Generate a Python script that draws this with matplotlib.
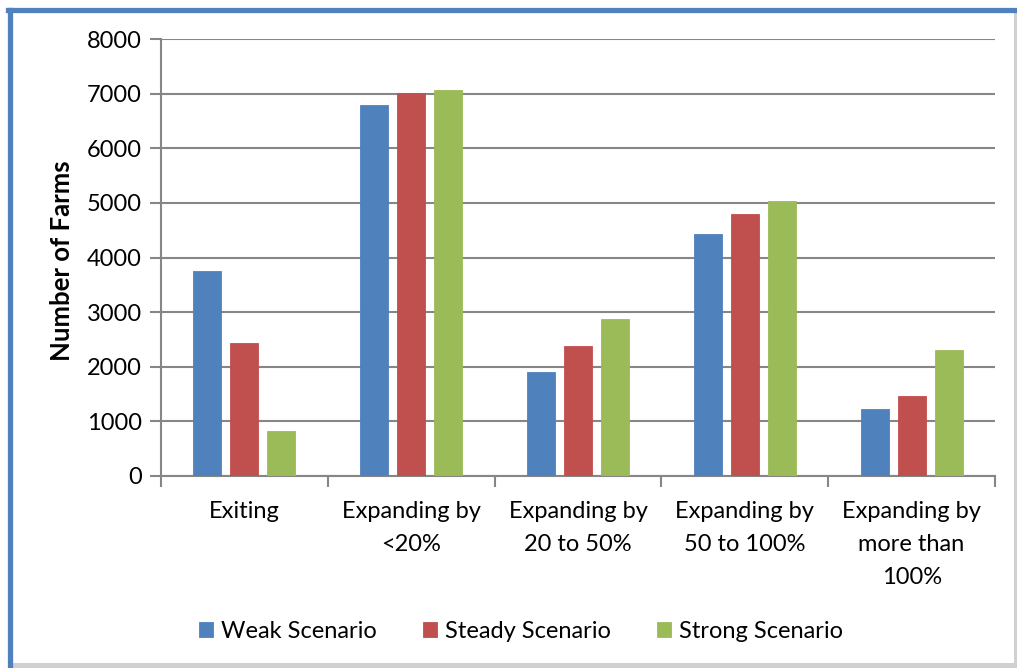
import matplotlib
matplotlib.use("Agg")
import matplotlib.pyplot as plt
from matplotlib.patches import Rectangle
from matplotlib.lines import Line2D
import numpy as np

categories = ["Exiting", "Expanding by\n<20%", "Expanding by\n20 to 50%",
              "Expanding by\n50 to 100%", "Expanding by\nmore than\n100%"]
weak = [3750, 6790, 1900, 4430, 1230]
steady = [2440, 7010, 2375, 4800, 1465]
strong = [830, 7060, 2870, 5030, 2310]
series_names = ["Weak Scenario", "Steady Scenario", "Strong Scenario"]
colors = ["#4F81BD", "#C0504D", "#9BBB59"]
yticks = [0, 1000, 2000, 3000, 4000, 5000, 6000, 7000, 8000]

plt.rcParams['font.family'] = ['Lato', 'DejaVu Sans']

W, H = 1017, 668
fig = plt.figure(figsize=(W / 100, H / 100), dpi=100)

# Frame: shadow then blue top/left border
fig.patches.append(Rectangle((12 / W, 0), (W - 12) / W, (H - 12) / H, transform=fig.transFigure,
                             facecolor="#d0d0d0", edgecolor="none", zorder=-2))
fig.patches.append(Rectangle((12 / W, 5 / H), (W - 15) / W, (H - 17) / H, transform=fig.transFigure,
                             facecolor="white", edgecolor="none", zorder=-1))
fig.lines.append(Line2D([9.5 / W, 9.5 / W], [0, (H - 9.5) / H], transform=fig.transFigure,
                        color="#4F81BD", lw=3.8, zorder=1))
fig.lines.append(Line2D([7.5 / W, 1], [(H - 9.5) / H, (H - 9.5) / H], transform=fig.transFigure,
                        color="#4F81BD", lw=3.8, zorder=1))

ax = fig.add_axes([161 / W, (H - 476) / H, (995 - 161) / W, (476 - 39) / H])
ax.set_facecolor("none")

x = np.arange(len(categories))
width = 0.168
step = 0.222
for i, (vals, name, c) in enumerate(zip([weak, steady, strong], series_names, colors)):
    ax.bar(x + (i - 1) * step, vals, width, color=c, label=name, zorder=3,
           edgecolor=c, linewidth=0.6)

ax.set_xlim(-0.5, len(categories) - 0.5)
ax.set_ylim(0, 8000)
ax.set_yticks(yticks)
ax.set_yticklabels([str(v) for v in yticks], fontsize=17)
ax.yaxis.grid(True, color="#868686", lw=1.5, zorder=1)
ax.set_axisbelow(True)

ax.set_xticks(np.arange(-0.5, len(categories)), labels=[""] * (len(categories) + 1))
ax.set_xticks(x, labels=categories, minor=True)
ax.tick_params(axis="x", which="minor", length=0, labelsize=17, pad=18)
ax.tick_params(axis="x", which="major", length=8, width=1.5, color="#868686", direction="out")
ax.tick_params(axis="y", length=8, width=1.5, color="#868686", direction="out", pad=6)
for lbl in ax.get_xticklabels(minor=True):
    lbl.set_linespacing(1.7)

for s in ["top", "right"]:
    ax.spines[s].set_visible(False)
for s in ["left", "bottom"]:
    ax.spines[s].set_color("#868686")
    ax.spines[s].set_linewidth(1.5)

fig.text(62 / W, 1 - 261 / H, "Number of Farms", rotation=90, ha="center", va="center",
         fontsize=18.5, fontweight="bold")

handles, labels = ax.get_legend_handles_labels()
fig.legend(handles, labels, loc="center", bbox_to_anchor=(521 / W, 1 - 631 / H), ncol=3,
           frameon=False, fontsize=17, handlelength=0.6, handleheight=0.6,
           handletextpad=0.35, columnspacing=1.95)

fig.savefig("out.png", dpi=100)
